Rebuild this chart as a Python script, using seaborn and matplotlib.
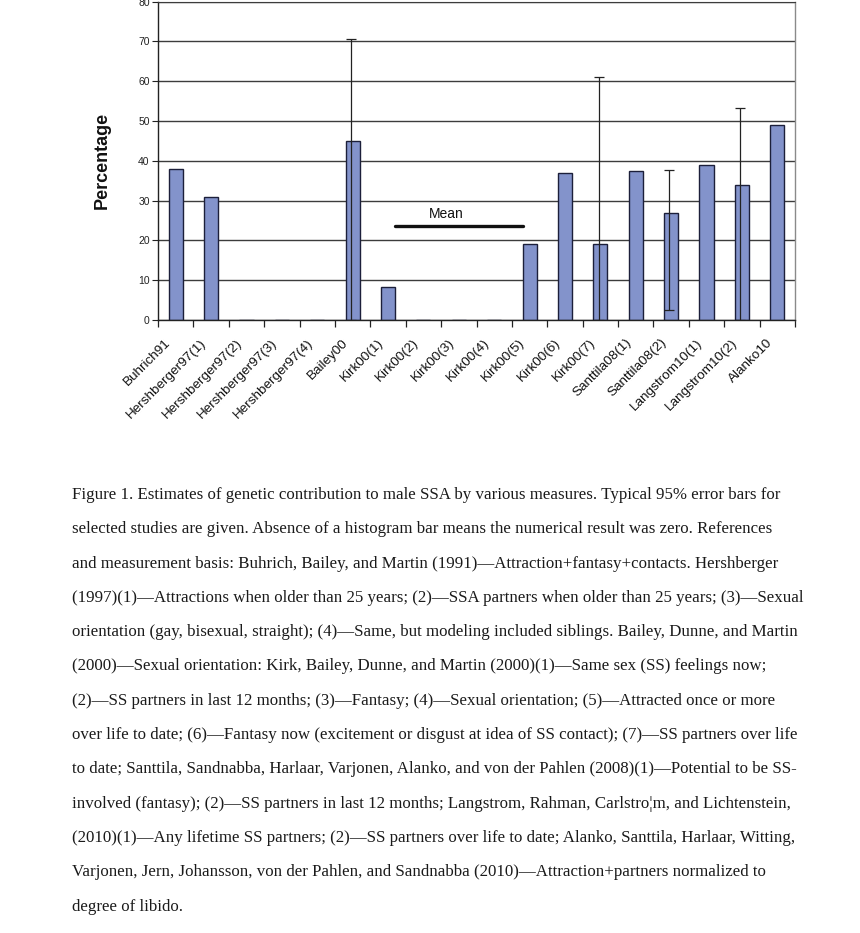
import matplotlib
matplotlib.use("Agg")
import matplotlib.pyplot as plt
import matplotlib.transforms as mtransforms
import seaborn as sns
import pandas as pd
import numpy as np

# ---------------- data ----------------
categories = ["Buhrich91", "Hershberger97(1)", "Hershberger97(2)", "Hershberger97(3)",
              "Hershberger97(4)", "Bailey00", "Kirk00(1)", "Kirk00(2)", "Kirk00(3)",
              "Kirk00(4)", "Kirk00(5)", "Kirk00(6)", "Kirk00(7)", "Santtila08(1)",
              "Santtila08(2)", "Langstrom10(1)", "Langstrom10(2)", "Alanko10"]
values = [38, 31, 0, 0, 0, 45, 8.2, 0, 0, 0, 19, 37, 19, 37.3, 27, 39, 34, 49]

err_studies = ["Bailey00", "Kirk00(7)", "Santtila08(2)", "Langstrom10(2)"]
err_low = [0, 0, 2.5, 0]
err_high = [70.5, 61, 37.8, 53.3]

mean_value = 23.6
mean_label = "Mean"
mean_from, mean_to = 6.2, 9.8   # category-axis span of the mean line
mean_label_x = 7.65

yticks = [0, 10, 20, 30, 40, 50, 60, 70, 80]
ylabel = "Percentage"

caption_lines = [
    "Figure 1. Estimates of genetic contribution to male SSA by various measures. Typical 95% error bars for",
    "selected studies are given. Absence of a histogram bar means the numerical result was zero. References",
    "and measurement basis: Buhrich, Bailey, and Martin (1991)\u2014Attraction+fantasy+contacts. Hershberger",
    "(1997)(1)\u2014Attractions when older than 25 years; (2)\u2014SSA partners when older than 25 years; (3)\u2014Sexual",
    "orientation (gay, bisexual, straight); (4)\u2014Same, but modeling included siblings. Bailey, Dunne, and Martin",
    "(2000)\u2014Sexual orientation: Kirk, Bailey, Dunne, and Martin (2000)(1)\u2014Same sex (SS) feelings now;",
    "(2)\u2014SS partners in last 12 months; (3)\u2014Fantasy; (4)\u2014Sexual orientation; (5)\u2014Attracted once or more",
    "over life to date; (6)\u2014Fantasy now (excitement or disgust at idea of SS contact); (7)\u2014SS partners over life",
    "to date; Santtila, Sandnabba, Harlaar, Varjonen, Alanko, and von der Pahlen (2008)(1)\u2014Potential to be SS-",
    "involved (fantasy); (2)\u2014SS partners in last 12 months; Langstrom, Rahman, Carlstro\u00a6m, and Lichtenstein,",
    "(2010)(1)\u2014Any lifetime SS partners; (2)\u2014SS partners over life to date; Alanko, Santtila, Harlaar, Witting,",
    "Varjonen, Jern, Johansson, von der Pahlen, and Sandnabba (2010)\u2014Attraction+partners normalized to",
    "degree of libido.",
]

# ---------------- figure ----------------
sns.set_style("white")
plt.rcParams['font.family'] = ['Liberation Sans', 'DejaVu Sans']

W, H = 860, 933
fig = plt.figure(figsize=(W / 100, H / 100), dpi=100)
ax_left, ax_right, ax_top, ax_bottom = 158, 795, 1.5, 320
ax = fig.add_axes([ax_left / W, 1 - ax_bottom / H, (ax_right - ax_left) / W, (ax_bottom - ax_top) / H])

df = pd.DataFrame({"study": categories, "value": values})
bar_color = "#8393CB"
edge_color = "#1c1f3a"

ax.set_axisbelow(True)
ax.yaxis.grid(True, color="#3c3c3c", linewidth=1.0)
ax.xaxis.grid(False)

sns.barplot(data=df, x="study", y="value", order=categories, color=bar_color,
            saturation=1, edgecolor=edge_color, linewidth=1.0, width=0.4, ax=ax,
            errorbar=None)

# error bars
pos = {c: i for i, c in enumerate(categories)}
for s, lo, hi in zip(err_studies, err_low, err_high):
    v = values[pos[s]]
    ax.errorbar([pos[s] - 0.05], [v], yerr=[[v - lo], [hi - v]], fmt='none',
                ecolor="#222222", elinewidth=0.9, capsize=3.3, capthick=0.9, zorder=5)

# mean line
ax.plot([mean_from, mean_to], [mean_value, mean_value], color="#111111", lw=2.4, zorder=5)
ax.text(mean_label_x, mean_value + 1.3, mean_label, ha="center", va="bottom",
        fontsize=10, color="#111111")

ax.set_xlim(-0.5, len(categories) - 0.5)
ax.set_ylim(0, 80)
ax.set_yticks(yticks)
ax.set_yticklabels([str(t) for t in yticks], fontsize=7.5, color="#222222")
ax.tick_params(axis='y', which='major', length=4, width=0.8, color="#222222", pad=2, left=True,
               direction='out')

ax.set_xticks(range(len(categories)))
ax.set_xticklabels(categories, rotation=45, ha='right', va='center', rotation_mode='anchor',
                   fontsize=9.7, color="#111111")
ax.tick_params(axis='x', which='major', length=0, pad=11)
shift = mtransforms.ScaledTranslation(-6.5 / 100, -5.5 / 100, fig.dpi_scale_trans)
for lab in ax.get_xticklabels():
    lab.set_transform(lab.get_transform() + shift)
ax.set_xticks(np.arange(-0.5, len(categories), 1), minor=True)
ax.tick_params(axis='x', which='minor', length=5, width=0.9, color="#222222", bottom=True,
               direction='out')

ax.set_xlabel("")
ax.set_ylabel(ylabel, fontsize=13, fontweight='bold', labelpad=20, color="#111111")

for side in ["left", "bottom"]:
    ax.spines[side].set_color("#222222")
    ax.spines[side].set_linewidth(1.0)
ax.spines["top"].set_color("#3c3c3c")
ax.spines["right"].set_color("#8a8a8a")
ax.spines["right"].set_linewidth(1.0)

# caption
for i, line in enumerate(caption_lines):
    fig.text(72 / W, 1 - (495 + 34.3 * i) / H, line, ha="left", va="center",
             family=["Liberation Serif", "DejaVu Serif"], fontsize=12.2, color="#1a1a1a")

fig.savefig("out.png", dpi=100, facecolor="white")
